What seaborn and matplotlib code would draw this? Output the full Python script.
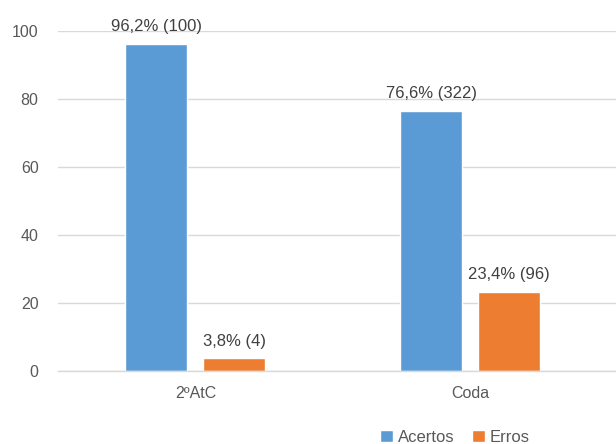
import matplotlib
matplotlib.use("Agg")
import matplotlib.pyplot as plt
import seaborn as sns
import pandas as pd

categories = ["2ºAtC", "Coda"]
series = ["Acertos", "Erros"]
acertos_pct = [96.2, 76.6]
erros_pct = [3.8, 23.4]
acertos_n = [100, 322]
erros_n = [4, 96]
yticks = [0, 20, 40, 60, 80, 100]

df = pd.DataFrame({
    "cat": categories * 2,
    "serie": [series[0]] * 2 + [series[1]] * 2,
    "pct": acertos_pct + erros_pct,
    "n": acertos_n + erros_n,
})

sns.set_theme(style="white")
plt.rcParams["font.family"] = ["Liberation Sans", "DejaVu Sans"]

fig = plt.figure(figsize=(6.16, 4.44), dpi=100)
x0 = 58 / 616
ax = fig.add_axes([x0, 0.164, 1 - x0, 0.766])

palette = {"Acertos": "#5B9BD5", "Erros": "#ED7D31"}
sns.barplot(data=df, x="cat", y="pct", hue="serie", palette=palette,
            width=0.567, gap=0.205, ax=ax, legend=True, saturation=1)

ax.set_ylim(0, 100)
ax.set_xlim(-0.5, 1.53)
ax.set_yticks(yticks)
ax.set_yticklabels([str(t) for t in yticks])
ax.yaxis.grid(True, color="#d9d9d9", linewidth=1)
ax.set_axisbelow(True)
for s in ["top", "right", "left"]:
    ax.spines[s].set_visible(False)
ax.spines["bottom"].set_color("#d9d9d9")
ax.spines["bottom"].set_linewidth(1)
ax.tick_params(axis="both", length=0, colors="#595959", labelsize=11.5)
ax.tick_params(axis="y", pad=14)
ax.tick_params(axis="x", pad=11)
ax.set_xlabel("")
ax.set_ylabel("")

for cont, ns in zip(ax.containers, [acertos_n, erros_n]):
    labels = [f"{b.get_height():.1f}".replace(".", ",") + f"% ({n})" for b, n in zip(cont, ns)]
    ax.bar_label(cont, labels=labels, padding=7, color="#404040", fontsize=12)

ax.legend(loc="center", bbox_to_anchor=(455 / 616, 7 / 444), bbox_transform=fig.transFigure,
          ncol=2, frameon=False, handlelength=0.75, handleheight=0.75, handletextpad=0.3,
          columnspacing=1.1, fontsize=12, labelcolor="#595959", borderpad=0)

fig.savefig("out.png", dpi=100)
